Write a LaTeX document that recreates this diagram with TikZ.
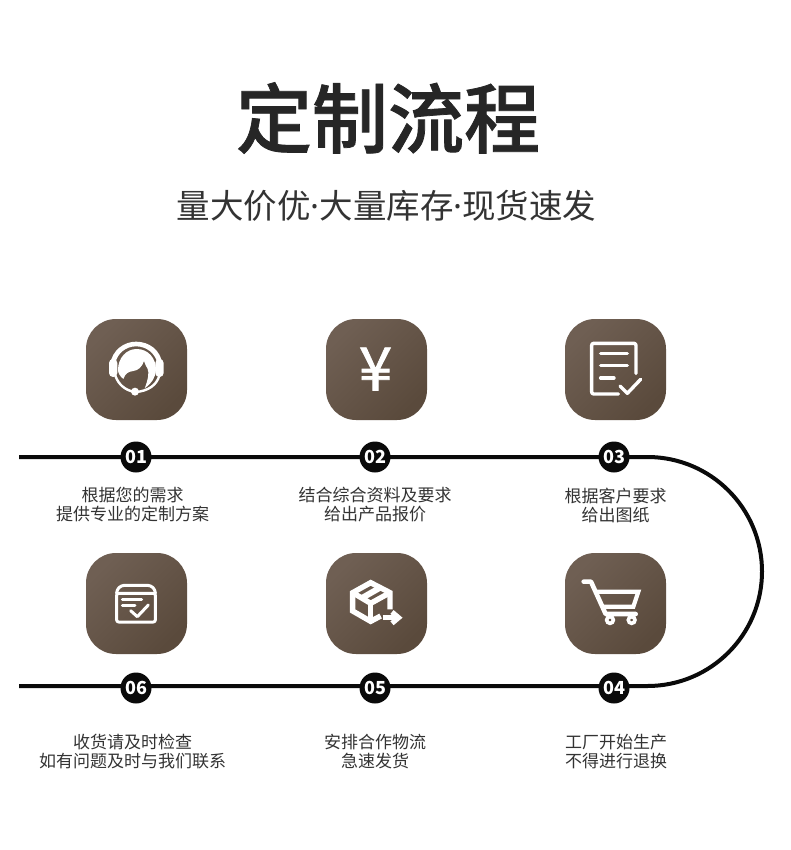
\documentclass[tikz,border=0pt]{standalone}
\usepackage{fontspec}
\setmainfont{Noto Sans CJK SC}
\newfontfamily\numfont{Noto Sans}
\newfontfamily\yenfont[FakeBold=1.2]{Noto Sans CJK SC}
\newfontfamily\titlefont[FakeBold=1]{Noto Sans CJK SC Medium}
\definecolor{tilea}{HTML}{6F5F53}
\definecolor{tileb}{HTML}{5A4A3C}
\definecolor{ink}{HTML}{262626}
\definecolor{labelink}{HTML}{333333}
\definecolor{linek}{HTML}{0A0A0A}
\tikzset{
  tile/.style={rectangle,minimum width=101pt,minimum height=101pt,rounded corners=30pt,inner sep=0pt,
    top color=tilea,bottom color=tileb,shading angle=45},
  numdot/.style={circle,fill=linek,minimum size=31pt,inner sep=0pt,text=white,
    font=\fontsize{18}{18}\selectfont\bfseries},
  steplabel/.style={align=center,text=labelink,inner sep=0pt,font=\fontsize{17}{19}\selectfont},
  glyph/.style={draw=white,line width=#1,line cap=round,line join=round},
  glyph/.default=3.4pt,
  route/.style={draw=linek,line width=4pt}
}
\begin{document}
\begin{tikzpicture}[x=1pt,y=-1pt]
\useasboundingbox[fill=white] (0,0) rectangle (790,850);
\node[text=ink,inner sep=0pt,font=\titlefont\fontsize{76}{76}\selectfont] (title) at (388,118) {定制流程};
\node[text=labelink,inner sep=0pt,font=\fontsize{33.5}{34}\selectfont] (subtitle) at (386.5,206) {量大价优{\numfont ·}大量库存{\numfont ·}现货速发};
% route
\coordinate (lstart) at (19,457);
\coordinate (a1) at (647.5,457);
\coordinate (a2) at (647.5,686);
\coordinate (lend) at (19,686);
\draw[route] (lstart) -- (a1) arc[start angle=-90,end angle=90,radius=114.5] -- (lend);
% tiles
\node[tile] (t1) at (136.5,369.5) {};
\node[tile] (t2) at (376.5,369.5) {};
\node[tile] (t3) at (615.5,369.5) {};
\node[tile] (t6) at (136.5,603.5) {};
\node[tile] (t5) at (376.5,603.5) {};
\node[tile] (t4) at (615.5,603.5) {};
% number dots
\node[numdot] (n1) at (136,457) {01};
\node[numdot] (n2) at (375,457) {02};
\node[numdot] (n3) at (614,457) {03};
\node[numdot] (n6) at (136,688) {06};
\node[numdot] (n5) at (375,688) {05};
\node[numdot] (n4) at (614,688) {04};
% labels
\node[steplabel] (l1) at (132.5,505) {根据您的需求\\提供专业的定制方案};
\node[steplabel] (l2) at (375,505) {结合综合资料及要求\\给出产品报价};
\node[steplabel] (l3) at (615.5,505) {根据客户要求\\给出图纸};
\node[steplabel] (l6) at (132.5,752) {收货请及时检查\\如有问题及时与我们联系};
\node[steplabel] (l5) at (375,752) {安排合作物流\\急速发货};
\node[steplabel] (l4) at (616,752) {工厂开始生产\\不得进行退换};
% icon 1: headset
\begin{scope}[shift={(100,335)},x=0.3333pt,y=-0.3333pt]
  \fill[white] (30,90) .. controls (36,45) and (72,20) .. (108,20) .. controls (148,20) and (182,45) .. (188,90)
     -- (172,84) .. controls (165,55) and (140,34) .. (108,34) .. controls (78,34) and (52,55) .. (46,84) -- cycle;
  \fill[white,rounded corners=4pt] (27,72) rectangle (52,126);
  \fill[white,rounded corners=4pt] (166,72) rectangle (191,126);
  \fill[white] (54,105) .. controls (54,68) and (80,42) .. (110,42) .. controls (145,42) and (168,70) .. (168,104)
     .. controls (168,125) and (155,145) .. (134,160)
     .. controls (144,135) and (148,112) .. (143,102) .. controls (138,92) and (134,86) .. (132,78)
     .. controls (126,96) and (115,106) .. (100,108) .. controls (85,110) and (76,115) .. (70,132)
     .. controls (60,124) and (54,114) .. (54,105) -- cycle;
  \draw[glyph=2.4pt] (46,122) .. controls (55,148) and (75,165) .. (100,170);
  \draw[glyph=2.4pt] (178,122) .. controls (170,150) and (145,168) .. (108,171);
  \fill[white] (105,170) circle (12);
\end{scope}
% icon 2: yen sign
\node[text=white,inner sep=0pt,font=\yenfont\fontsize{60}{60}\selectfont] (yen) at (375.5,369) {¥};
% icon 3: document
\begin{scope}[shift={(540,300)},x=0.3333pt,y=-0.3333pt]
  \draw[glyph,rounded corners=2pt] (288,220) -- (288,130) -- (155,130) -- (155,282) -- (235,282);
  \draw[glyph] (182,160) -- (262,160);
  \draw[glyph] (182,197) -- (262,197);
  \draw[glyph] (182,234) -- (222,234);
  \draw[glyph] (240,258) -- (262,280) -- (302,238);
\end{scope}
% icon 6: archive
\begin{scope}[shift={(100,570)},x=0.3333pt,y=-0.3333pt]
  \draw[glyph=3pt,rounded corners=2pt] (50,70) -- (166,70) -- (166,156) -- (50,156) -- cycle;
  \draw[glyph=3pt,rounded corners=3pt] (50,70) -- (50,60) -- (64,46) -- (152,46) -- (166,60) -- (166,70);
  \draw[glyph=3pt] (67,88) -- (125,88);
  \draw[glyph=3pt] (67,105) -- (105,105);
  \draw[glyph=3pt] (92,122) -- (112,140) -- (145,105);
\end{scope}
% icon 5: parcel
\begin{scope}[shift={(340,570)},x=0.3333pt,y=-0.3333pt]
  \draw[draw=white,line width=5.4pt,line join=miter] (150,118) -- (150,68) -- (92,38) -- (38,68) -- (38,123) -- (92,154) -- (122,138);
  \draw[draw=white,line width=5.4pt,line join=miter] (38,68) -- (92,100) -- (150,68);
  \draw[draw=white,line width=5.4pt] (92,100) -- (92,154);
  \draw[draw=white,line width=6pt] (66,84) -- (122,52);
  \draw[draw=white,line width=5pt] (128,143) -- (170,143);
  \draw[draw=white,line width=5pt,line join=miter] (156,126) -- (176,143) -- (156,160);
\end{scope}
% icon 4: cart
\begin{scope}[shift={(575,570)},x=0.3333pt,y=-0.3333pt]
  \draw[glyph=4.6pt] (26,35) -- (48,35) -- (92,132) -- (182,132);
  \draw[glyph=4.2pt,line join=miter] (68,65) -- (190,65) -- (175,110) -- (84,110);
  \draw[draw=white,line width=3.6pt] (105,150) circle (10);
  \draw[draw=white,line width=3.6pt] (170,150) circle (10);
\end{scope}
\end{tikzpicture}
\end{document}
